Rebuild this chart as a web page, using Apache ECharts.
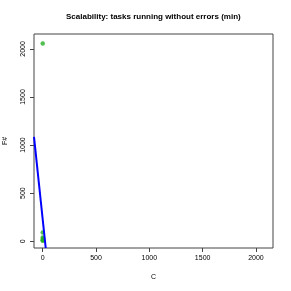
<!DOCTYPE html>
<html><head><meta charset="utf-8">
<script src="https://cdn.jsdelivr.net/npm/echarts@6/dist/echarts.min.js"></script>
<style>html,body{margin:0;padding:0;background:#fff}#c{width:291px;height:291px}</style>
</head><body><div id="c"></div>
<script>
const titleText = 'Scalability: tasks running without errors (min)';
const xName = 'C';
const yName = 'F#';
const xTicks = [0, 500, 1000, 1500, 2000];
const yTicks = [0, 500, 1000, 1500, 2000];
const pointsX = [0, 0, 0, 2, 0, 1, 0];
const pointsY = [2057, 90, 40, 25, 10, 15, 5];
const fitIntercept = 224;
const fitSlope = -10.5;
const xMin = -82, xMax = 2160, yMin = -70, yMax = 2155;

const pts = pointsX.map((x, i) => [x, pointsY[i]]);
const lineX = [xMin, (yMin - fitIntercept) / fitSlope];
const lineData = lineX.map(x => [x, fitIntercept + fitSlope * x]);

const font = 'Liberation Sans, Arial, sans-serif';
const chart = echarts.init(document.getElementById('c'), null, {renderer: 'canvas'});
chart.setOption({
  animation: false,
  backgroundColor: '#fff',
  title: {text: titleText, left: 66, top: 13, padding: 0,
    textStyle: {fontFamily: font, fontSize: 8, fontWeight: 'bold', color: '#000'}},
  grid: {left: 34, right: 18, top: 34, bottom: 43, show: true, borderColor: '#444', borderWidth: 1,
    containLabel: false, outerBoundsMode: 'none'},
  xAxis: {type: 'value', min: xMin, max: xMax,
    name: xName, nameLocation: 'middle', nameGap: 26,
    nameTextStyle: {fontFamily: font, fontSize: 7, color: '#000'},
    splitLine: {show: false},
    axisLine: {show: false, onZero: false},
    axisTick: {show: true, inside: false, length: 4, customValues: xTicks, lineStyle: {color: '#444'}},
    axisLabel: {customValues: xTicks, formatter: v => String(v), fontFamily: font, fontSize: 7, color: '#000', margin: 7}},
  yAxis: {type: 'value', min: yMin, max: yMax,
    name: yName, nameLocation: 'middle', nameGap: 25, nameRotate: 90,
    nameTextStyle: {fontFamily: font, fontSize: 7, color: '#000'},
    splitLine: {show: false},
    axisLine: {show: false, onZero: false},
    axisTick: {show: true, inside: false, length: 4, customValues: yTicks, lineStyle: {color: '#444'}},
    axisLabel: {customValues: yTicks, formatter: v => String(v), rotate: 90, fontFamily: font, fontSize: 7, color: '#000', margin: 7}},
  series: [
    {type: 'scatter', data: pts, symbolSize: 4.5, itemStyle: {color: '#25b025'}},
    {type: 'line', data: lineData, clip: true, symbol: 'none', z: 3, lineStyle: {color: '#0000ff', width: 2}}
  ]
});
</script></body></html>
